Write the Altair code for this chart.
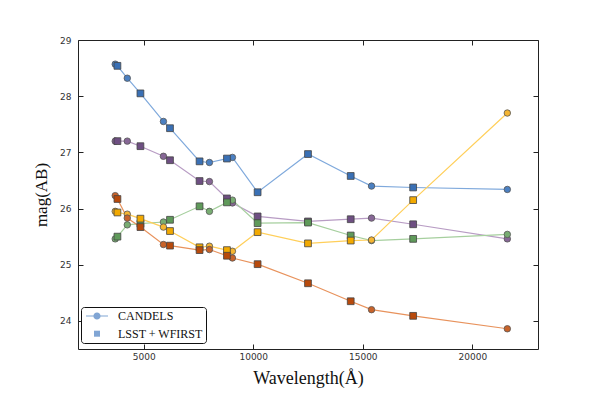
import altair as alt
import pandas as pd

# ---- data ----
series = ["blue", "purple", "green", "yellow", "orange"]

circle_wl = [3700, 4250, 5900, 8000, 9050, 15400, 21600]
square_wl = [3800, 4850, 6200, 7550, 8800, 10200, 12500, 14450, 17300]

circle_mag = {
    "blue":   [28.57, 28.32, 27.55, 26.82, 26.91, 26.40, 26.34],
    "purple": [27.20, 27.20, 26.93, 26.48, 26.10, 25.83, 25.46],
    "green":  [25.46, 25.71, 25.76, 25.95, 26.15, 25.43, 25.54],
    "yellow": [25.95, 25.90, 25.67, 25.33, 25.24, 25.44, 27.70],
    "orange": [26.23, 25.83, 25.36, 25.27, 25.12, 24.20, 23.86],
}
square_mag = {
    "blue":   [28.54, 28.05, 27.43, 26.84, 26.89, 26.29, 26.97, 26.58, 26.375],
    "purple": [27.20, 27.11, 26.86, 26.49, 26.18, 25.86, 25.77, 25.81, 25.72],
    "green":  [25.50, 25.73, 25.80, 26.04, 26.11, 25.74, 25.75, 25.52, 25.46],
    "yellow": [25.93, 25.82, 25.60, 25.31, 25.26, 25.58, 25.38, 25.43, 26.15],
    "orange": [26.17, 25.67, 25.34, 25.26, 25.16, 25.01, 24.67, 24.35, 24.09],
}

legend_labels = ["CANDELS", "LSST + WFIRST"]
x_ticks = [5000, 10000, 15000, 20000]
y_ticks = [24, 25, 26, 27, 28, 29]

# ---- styles ----
line_colors = ["#7fa9dc", "#b89cc4", "#a6cf9e", "#ffcf5a", "#e8925c"]
circle_colors = ["#4b80c2", "#876796", "#78ad72", "#f5b531", "#c8632a"]
square_colors = ["#3a70b5", "#6e4f82", "#5f9a5a", "#f2a900", "#b84a0c"]

rows = []
for s in series:
    for w, m in zip(circle_wl, circle_mag[s]):
        rows.append({"series": s, "wl": w, "mag": m, "kind": "circle"})
    for w, m in zip(square_wl, square_mag[s]):
        rows.append({"series": s, "wl": w, "mag": m, "kind": "square"})
df = pd.DataFrame(rows)

xscale = alt.Scale(domain=[2000, 23000], nice=False, zero=False)
yscale = alt.Scale(domain=[23.5, 29], nice=False, zero=False)

tick_font = "DejaVu Sans"
title_font = "Liberation Serif"

x_bottom = alt.Axis(values=x_ticks, format="d", orient="bottom", tickSize=5, offset=-5,
                    domain=False, grid=False, labelFont=tick_font, labelFontSize=9,
                    labelColor="#333", labelPadding=3, tickColor="#222",
                    title="Wavelength(Å)", titleFont=title_font, titleFontSize=18,
                    titleFontWeight="normal", titleColor="#111", titlePadding=8)
y_left = alt.Axis(values=y_ticks, orient="left", tickSize=5, offset=-5, domain=False,
                  grid=False, labelFont=tick_font, labelFontSize=9, labelColor="#333",
                  labelPadding=7, tickColor="#222", title="mag(AB)",
                  titleFont=title_font, titleFontSize=17, titleFontWeight="normal",
                  titleColor="#111", titlePadding=9)
x_top = alt.Axis(values=x_ticks, orient="top", tickSize=5, offset=-5, domain=False,
                 grid=False, labels=False, title=None, tickColor="#222")
y_right = alt.Axis(values=y_ticks, orient="right", tickSize=5, offset=-5, domain=False,
                   grid=False, labels=False, title=None, tickColor="#222")

base = alt.Chart(df)

lines = base.mark_line(strokeWidth=1.2).encode(
    x=alt.X("wl:Q", scale=xscale, axis=x_bottom),
    y=alt.Y("mag:Q", scale=yscale, axis=y_left),
    color=alt.Color("series:N", scale=alt.Scale(domain=series, range=line_colors), legend=None),
    order="wl:Q",
)

circles = base.transform_filter(alt.datum.kind == "circle").mark_point(
    shape="circle", filled=True, size=42, stroke="#555", strokeWidth=0.8, opacity=1
).encode(
    x=alt.X("wl:Q", scale=xscale, axis=x_top),
    y=alt.Y("mag:Q", scale=yscale, axis=y_right),
    color=alt.Color("series:N", scale=alt.Scale(domain=series, range=circle_colors), legend=None),
)

squares = base.transform_filter(alt.datum.kind == "square").mark_point(
    shape="square", filled=True, size=46, stroke="#444", strokeWidth=0.8, opacity=1
).encode(
    x=alt.X("wl:Q", scale=xscale, axis=None),
    y=alt.Y("mag:Q", scale=yscale, axis=None),
    color=alt.Color("series:N", scale=alt.Scale(domain=series, range=square_colors), legend=None),
)

# legend-only layer (no data drawn); symbol size 100 -> 5 px per path unit
circle_path = ("M-2.2,-0.11H2.2V0.11H-2.2Z"
               "M0.72,0A0.72,0.72 0 1,1 -0.72,0A0.72,0.72 0 1,1 0.72,0Z")
square_path = "M-0.6,-0.6H0.6V0.6H-0.6Z"
leg_df = pd.DataFrame({"label": legend_labels, "wl": [0, 0], "mag": [0, 0]})
legend_layer = alt.Chart(leg_df).transform_filter("false").mark_point(
    filled=True, color="#4b80c2", size=100
).encode(
    x=alt.X("wl:Q", scale=xscale, axis=None),
    y=alt.Y("mag:Q", scale=yscale, axis=None),
    shape=alt.Shape("label:N",
                    scale=alt.Scale(domain=legend_labels, range=[circle_path, square_path]),
                    legend=alt.Legend(title=None, orient="none", legendX=3, legendY=267,
                                      symbolSize=100, symbolOffset=7, labelFont=title_font,
                                      labelFontSize=12, labelColor="#111", labelOffset=15,
                                      rowPadding=4.7, padding=3, strokeColor="#111",
                                      fillColor="white", cornerRadius=3,
                                      symbolFillColor="#4b80c2")),
)

chart = alt.layer(lines, circles, squares, legend_layer).resolve_scale(
    color="independent"
).resolve_axis(
    x="independent", y="independent"
).properties(
    width=460, height=309, autosize="none",
    padding={"left": 70, "top": 32, "right": 52, "bottom": 42},
    background="white",
).configure_view(stroke="#222", strokeWidth=1)

chart.save("out.html", embed_options={"renderer": "svg", "actions": False})
